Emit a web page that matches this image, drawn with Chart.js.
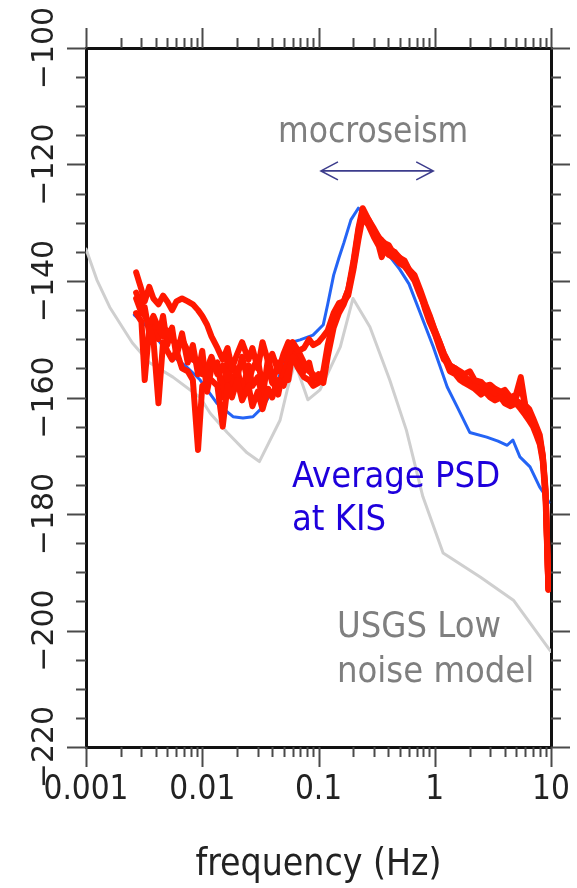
<!DOCTYPE html>
<html>
<head>
<meta charset="utf-8">
<script src="https://cdn.jsdelivr.net/npm/chart.js@4.4.1/dist/chart.umd.min.js"></script>
<style>
html, body { margin: 0; padding: 0; background: #fff; }
#wrap { width: 577px; height: 888px; }
</style>
</head>
<body>
<div id="wrap"><canvas id="psd" width="577" height="888"></canvas></div>
<script>
// axis ticks
var xTicks = [0.001, 0.01, 0.1, 1, 10];
var xTickLabels = ["0.001", "0.01", "0.1", "1", "10"];
var yTicks = [-100, -120, -140, -160, -180, -200, -220];
var yTickLabels = ["\u2212100", "\u2212120", "\u2212140", "\u2212160", "\u2212180", "\u2212200", "\u2212220"];

// red: individual PSD traces at KIS (Hz / dB)
var redFreq = [
  0.0027, 0.003, 0.0032, 0.0035, 0.0038, 0.0042, 0.0046, 0.005, 0.0055, 0.006,
  0.0067, 0.0075, 0.0083, 0.0092, 0.01, 0.011, 0.012, 0.0135, 0.015, 0.0165,
  0.018, 0.02, 0.022, 0.025, 0.027, 0.03, 0.033, 0.037, 0.04, 0.045,
  0.05, 0.055, 0.06, 0.067, 0.075, 0.083, 0.09, 0.1, 0.11, 0.12,
  0.135, 0.15, 0.165, 0.18, 0.2, 0.22, 0.24, 0.27, 0.3, 0.33,
  0.35, 0.37, 0.4, 0.45, 0.5, 0.55, 0.6, 0.67, 0.75, 0.83,
  0.9, 1.0, 1.1, 1.2, 1.35, 1.5, 1.65, 1.8, 2.0, 2.2,
  2.5, 2.7, 3.0, 3.3, 3.7, 4.0, 4.5, 5.0, 5.5, 6.0,
  6.5, 7.0, 7.5, 8.0, 8.5, 9.0, 9.5
];
var redA = [
  -138.5, -141.5, -143.5, -141, -143, -144, -142.5, -143.5, -145, -143.5,
  -143, -143.5, -144, -145, -146, -147.5, -149.5, -151.5, -153.5, -151.5,
  -155, -152.5, -150.5, -153.5, -151.5, -155, -150.5, -154, -152.5, -155.5,
  -152.5, -150.5, -151, -152, -151.5, -150, -151, -150.5, -149.5, -148.5,
  -145.5, -143.8, -143.5, -141.5, -136.5, -131, -127.5, -129.5, -131.5, -132.5,
  -133, -133.5, -133.8, -135.5, -136, -136.5, -138, -139, -141.5, -144,
  -145.8, -148.4, -150.5, -152.5, -154.5, -155, -155.5, -156, -155.5, -157,
  -157.3, -158, -157.8, -158.5, -159, -158.7, -160, -159.5, -156.5, -161.3,
  -162, -163.5, -165, -166.4, -169.9, -175.9, -192.5
];
var redB = [
  -145.5, -147, -157, -148, -150, -161, -150.5, -152, -153.5, -152,
  -155, -155.5, -157, -169, -158, -157.5, -157, -158, -165, -158,
  -160, -157, -160.5, -158, -161.5, -159, -162, -158.5, -160, -157,
  -158, -155.5, -153, -155, -156.5, -157, -158, -157.5, -156.5, -152,
  -147, -144.5, -143.5, -142.5, -138, -133, -129, -130.5, -132.5, -134,
  -135.9, -134.5, -135.5, -136, -137, -137.5, -138.5, -140, -142.5, -144.5,
  -146.5, -149, -151, -153, -155.5, -156, -157, -157.5, -158, -158.5,
  -159.5, -159, -160, -160.5, -160, -161, -161.5, -161, -162, -163,
  -164, -165, -166.5, -168, -171, -178, -193
];
var redC = [
  -142, -144, -146, -147.5, -146, -148, -149.5, -148.5, -150, -151,
  -150, -152, -153.5, -154, -156, -155, -153, -156, -154.5, -157,
  -154, -156.5, -153, -157.5, -155, -153.5, -158, -155, -157.5, -154,
  -156, -153, -150.5, -152, -154, -155.5, -156, -157, -155.5, -151,
  -146.5, -145, -143.5, -141.5, -137.5, -132, -128.5, -130, -131.5, -133.5,
  -134.5, -134, -134.5, -135, -136.5, -137, -138, -139.5, -142, -144.5,
  -146, -148.5, -150.5, -152.5, -154.5, -155, -156, -157, -157.5, -158,
  -158.5, -158, -159, -159.5, -159.5, -160, -160.5, -160.5, -161, -162,
  -163, -164.5, -166, -167.5, -170.5, -177, -192.8
];
var redD = [
  -143, -145.5, -144.5, -149, -147.5, -150, -146, -151, -148, -153,
  -149, -154, -151, -156, -152, -159, -155, -154, -160, -153.5,
  -158.5, -155, -159, -154.5, -158, -156.5, -160, -153, -157, -159.5,
  -155, -157, -152, -153.5, -155.5, -154, -157, -156, -157.5, -153,
  -148, -145.5, -144, -142, -137, -131.5, -128, -129.5, -131, -132.5,
  -133.5, -133.5, -134.5, -135, -136, -137, -138.5, -139.5, -142, -145,
  -147, -149, -151.5, -153.5, -154.5, -155.5, -156.5, -156.5, -157, -157.5,
  -158, -158.5, -158.5, -159.5, -159.5, -160.5, -160.5, -160, -158, -161.5,
  -162.5, -164, -165.5, -167, -170, -176.5, -193
];

// blue: average PSD at KIS
var blueFreq = [0.0026, 0.0036, 0.005, 0.0074, 0.0096, 0.0134, 0.0184, 0.0224, 0.0273, 0.0333,
  0.044, 0.057, 0.0694, 0.0897, 0.11, 0.12, 0.135, 0.15, 0.165, 0.19,
  0.22, 0.25, 0.28, 0.33, 0.4, 0.5, 0.6, 0.75, 0.97, 1.28,
  1.56, 2.0, 2.8, 3.5, 4.2, 4.7, 5.4, 6.6, 8.0, 9.1, 9.6];
var blueDb = [-145.8, -148.4, -152.2, -154.8, -157, -161, -163.3, -163.5, -163.3, -161.6,
  -157.5, -150.6, -150.1, -149.3, -147.5, -144, -139, -136, -133.5, -129.5,
  -127.5, -128.5, -130.5, -133, -135.5, -138, -140.5, -145.5, -151.3, -158.2,
  -161.6, -166, -166.8, -167.5, -168.2, -167.3, -170.2, -171.9, -175.4, -177, -178];

// gray: USGS low noise model
var grayFreq = [0.001, 0.00124, 0.0016, 0.0025, 0.0035, 0.0056, 0.0096, 0.0117, 0.0164, 0.0243,
  0.031, 0.0467, 0.0546, 0.0627, 0.081, 0.103, 0.154, 0.198, 0.277, 0.41,
  0.57, 0.79, 1.18, 2.46, 4.75, 9.8, 10];
var grayDb = [-134.5, -139.8, -144.5, -150.6, -154, -156.5, -160, -162.7, -166, -169.5,
  -171, -163.9, -158.2, -154, -160.4, -158.7, -151.3, -143, -147.9, -157,
  -165.6, -177, -186.7, -190.8, -194.8, -203.4, -203.6];

var condensed = "'DejaVu Sans Condensed', 'DejaVu Sans', sans-serif";

function pts(f, v) {
    return f.map(function (x, i) { return {x: x, y: v[i]}; });
}

function redSet(v) {
    return {data: pts(redFreq, v), borderColor: "#ff1800", borderWidth: 6};
}

function fixBox(w, h) {
    return function (s) {
        if (w !== null) s.width = w;
        if (h !== null) s.height = h;
        s.paddingLeft = 0; s.paddingRight = 0;
        s.paddingTop = 0; s.paddingBottom = 0;
    };
}

// ticks on all four sides, rotated y labels, annotations
var decor = {
    id: "decor",
    afterDraw: function (chart) {
        var c = chart.ctx, a = chart.chartArea;
        var sx = chart.scales.x, sy = chart.scales.y;
        c.save();
        c.strokeStyle = "#4a4a4a";
        c.lineWidth = 2;
        c.beginPath();
        for (var d = -3; d <= 1; d++) {
            for (var m = 1; m <= 9; m++) {
                var v = m * Math.pow(10, d);
                if (v > 10.001) break;
                var px = Math.round(sx.getPixelForValue(v)) + 0.5;
                var len = m === 1 ? 20 : 10;
                c.moveTo(px, a.bottom); c.lineTo(px, a.bottom + len);
                c.moveTo(px, a.top); c.lineTo(px, a.top - len);
            }
        }
        for (var t = -220; t <= -100; t += 5) {
            var py = Math.round(sy.getPixelForValue(t)) + 0.5;
            var l = t % 20 === 0 ? 19 : 10;
            c.moveTo(a.left, py); c.lineTo(a.left - l, py);
            c.moveTo(a.right, py); c.lineTo(a.right + l, py);
        }
        c.stroke();

        // y labels, read bottom to top
        c.fillStyle = "#222";
        c.font = "30px 'DejaVu Sans', sans-serif";
        c.textAlign = "center";
        c.textBaseline = "alphabetic";
        yTicks.forEach(function (v, i) {
            c.save();
            c.translate(53, sy.getPixelForValue(v));
            c.rotate(-Math.PI / 2);
            c.fillText(yTickLabels[i], 0, 0);
            c.restore();
        });

        // microseism arrow
        var ay = sy.getPixelForValue(-121.1);
        var x1 = sx.getPixelForValue(0.105), x2 = sx.getPixelForValue(0.97);
        c.strokeStyle = "#3c3c8c";
        c.lineWidth = 1.6;
        c.beginPath();
        c.moveTo(x1, ay); c.lineTo(x2, ay);
        c.moveTo(x1 + 17, ay - 9); c.lineTo(x1, ay); c.lineTo(x1 + 17, ay + 9);
        c.moveTo(x2 - 17, ay - 9); c.lineTo(x2, ay); c.lineTo(x2 - 17, ay + 9);
        c.stroke();

        c.textAlign = "left";
        c.fillStyle = "#7f7f7f";
        c.font = "35px " + condensed;
        c.fillText("mocroseism", 278, 142);
        c.font = "36px " + condensed;
        c.fillText("USGS Low", 337, 637);
        c.fillText("noise model", 337, 682);
        c.fillStyle = "#1e00dc";
        c.fillText("Average PSD", 292, 487);
        c.fillText("at KIS", 292, 530);
        c.restore();
    }
};

new Chart(document.getElementById("psd"), {
    type: "line",
    data: {
        datasets: [
            redSet(redA), redSet(redB), redSet(redC), redSet(redD),
            {data: pts(blueFreq, blueDb), borderColor: "#2464f5", borderWidth: 3},
            {data: pts(grayFreq, grayDb), borderColor: "#cfcfcf", borderWidth: 3}
        ]
    },
    options: {
        responsive: false,
        devicePixelRatio: 1,
        animation: false,
        layout: {padding: 0},
        elements: {
            point: {radius: 0},
            line: {tension: 0, borderJoinStyle: "round", borderCapStyle: "round"}
        },
        plugins: {legend: {display: false}, tooltip: {enabled: false}},
        scales: {
            x: {
                type: "logarithmic", position: "bottom", min: 0.001, max: 10,
                afterBuildTicks: function (s) { s.ticks = xTicks.map(function (v) { return {value: v}; }); },
                afterFit: fixBox(null, 141),
                ticks: {
                    autoSkip: false, maxRotation: 0, padding: 24, color: "#222",
                    font: {family: condensed, size: 33},
                    callback: function (v, i) { return xTickLabels[i]; }
                },
                grid: {display: false, drawTicks: false},
                border: {display: true, color: "#111", width: 3},
                title: {
                    display: true, text: "frequency (Hz)", color: "#222",
                    font: {family: condensed, size: 37}, padding: {top: 0, bottom: 0}
                }
            },
            x2: {
                type: "logarithmic", position: "top", min: 0.001, max: 10,
                afterFit: fixBox(null, 48),
                ticks: {display: false},
                grid: {display: false, drawTicks: false},
                border: {display: true, color: "#111", width: 3}
            },
            y: {
                type: "linear", position: "left", min: -220, max: -100,
                afterFit: fixBox(86, null),
                ticks: {display: false},
                grid: {display: false, drawTicks: false},
                border: {display: true, color: "#111", width: 3}
            },
            y2: {
                type: "linear", position: "right", min: -220, max: -100,
                afterFit: fixBox(26, null),
                ticks: {display: false},
                grid: {display: false, drawTicks: false},
                border: {display: true, color: "#111", width: 3}
            }
        }
    },
    plugins: [decor]
});
</script>
</body>
</html>
